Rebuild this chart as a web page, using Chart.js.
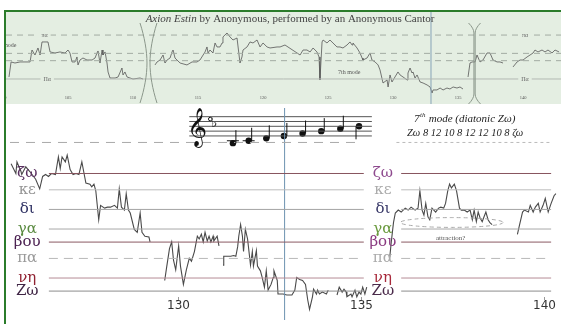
<!DOCTYPE html>
<html>
<head>
<meta charset="utf-8">
<script src="https://cdn.jsdelivr.net/npm/chart.js@4.4.1/dist/chart.umd.min.js"></script>
<style>
    body { margin: 0; background: #fff; width: 561px; height: 324px; overflow: hidden; position: relative; }
    #frame { position: absolute; left: 4px; top: 10px; width: 557px; height: 314px; border-left: 2px solid #2b7c2b; border-top: 2px solid #2b7c2b; }
    #overview { position: absolute; left: 6px; top: 12px; background: #e4eee2; }
    #detail { position: absolute; left: 6px; top: 104px; }
</style>
</head>
<body>
<div id="frame"></div>
<canvas id="overview" width="555" height="92"></canvas>
<canvas id="detail" width="555" height="220"></canvas>
<script>
// ---- overview (whole piece) ----
const ovTicks = [100, 105, 110, 115, 120, 125, 130, 135, 140];
const ovLevels = [0, 30, 42, 72];          // Πα, Δι, Κε, πα' in moria above Πα
const ovSeg1Time = [100.46,100.62,100.92,101.31,101.69,102.08,102.23,102.46,102.69,102.85,103.00,103.46,103.62,104.00,104.38,104.77,105.00,105.15,105.31,105.54,105.69,105.77,105.92,106.15,106.46,106.85,107.08,107.23,107.31,107.46,107.62,107.69,107.85,108.00,108.08,108.23,108.62,108.85,109.15,109.23,109.38,109.54,109.77,110.00,110.54,110.77];
const ovSeg1Pitch = [3.3,27.9,26.2,27.9,27.9,27.9,47.5,39.3,50.8,39.3,60.7,60.7,44.3,42.6,44.3,42.6,47.5,42.6,27.9,27.9,36.1,23.0,31.1,34.4,31.1,31.1,34.4,42.6,45.9,26.2,47.5,39.3,44.3,26.2,11.5,1.6,1.6,3.3,18.0,6.6,11.5,3.3,1.6,0,1.6,0];
const ovSeg2Time = [111.69,111.85,112.08,112.31,112.46,112.62,112.85,113.00,113.08,113.23,113.38,113.62,114.15,114.54,114.92,115.15,115.54,115.69,115.77,115.92,116.15,116.31,116.46,116.69,116.85,116.92,117.23,117.46,117.69,118.00,118.23,118.38,118.46,118.77,119.00,119.23,119.54,119.77,120.00,120.31,120.54,121.08,
    121.31,121.69,122.85,123.08,123.38,123.62,123.85,124.15,124.31,124.38,124.54,124.62,124.92,125.15,125.38,125.69,125.92,126.15,126.46,126.69,126.85,126.92,127.23,127.46,127.62,127.69,128.00,128.23,128.38,128.62,128.85,129.00,129.23,129.54,129.62,129.77,129.92,130.15,130.38,130.54,130.77,131.08,131.15,131.31,131.46,131.54,131.69,131.85,132.08,132.31,132.62,132.85,133.00,133.08,133.38,133.62,133.85,134.15,134.38,134.62,134.92,135.15,135.38];
const ovSeg2Pitch = [23.0,27.9,31.1,39.3,26.2,31.1,34.4,44.3,47.5,34.4,31.1,26.2,23.0,27.9,27.9,31.1,44.3,52.5,42.6,47.5,42.6,59.0,52.5,52.5,59.0,68.9,75.4,68.9,63.9,67.2,26.2,36.1,47.5,52.5,60.7,59.0,63.9,52.5,59.0,52.5,50.8,52.5,
    52.5,55.7,39.3,47.5,47.5,44.3,50.8,44.3,36.1,-1.6,60.7,63.9,59.0,63.9,59.0,52.5,52.5,50.8,55.7,60.7,55.7,59.0,50.8,42.6,34.4,31.1,34.4,42.6,31.1,27.9,23.0,14.8,-6.6,-1.6,-13.1,6.6,-4.9,3.3,11.5,6.6,3.3,-1.6,9.8,18.0,9.8,11.5,1.6,6.6,-4.9,-6.6,-9.8,-13.1,-23.0,-18.0,-18.0,-14.8,-18.0,-14.8,-16.4,-13.1,-14.8,-13.1,-16.4];
const ovSeg3Time = [135.77,135.92,136.08,136.31,136.46,136.69,136.92,137.23,137.46,137.69,138.00,138.23,138.46];
const ovSeg3Pitch = [3.3,26.2,27.9,27.9,39.3,27.9,31.1,42.6,42.6,31.1,27.9,27.9,26.2];
const ovSeg4Time = [139.23,139.54,139.77,140.00,140.31,140.54,140.77,140.92,141.15,141.46,141.69,141.92,142.23,142.46,142.77];
const ovSeg4Pitch = [19.7,27.9,31.1,31.1,36.1,39.3,42.6,47.5,44.3,47.5,44.3,47.5,42.6,47.5,44.3];
const bracketTimes = [111.19, 136.27];

// ---- detail (zoomed section) ----
const pitchNames = ['Ζω', 'νη', 'πα', 'βου', 'γα', 'δι', 'κε', 'ζω'];
const pitchMoria = [0, 8, 20, 30, 38, 50, 62, 72];   // Zω 8 12 10 8 12 12 10 ζω
const detailTicks = [130, 135, 140];
const cursorTime = 132.92;
const upperGuide = 91;
const segATime = [125.46,125.59,125.62,125.73,125.75,125.86,125.97,126.13,126.24,126.32,126.40,126.48,126.56,126.67,126.75,126.80,126.85,126.94,126.99,127.07,127.15,127.23,127.31,127.39,127.45,127.50,127.61,127.66,127.72,127.77,127.85,127.90,128.01,128.09,128.17,128.28,128.36,128.41,128.47,128.55,128.60,128.66,128.71,128.82,128.90,128.98,129.03,129.11,129.22,129.25];
const segAPitch = [77.9,72.0,79.1,73.2,71.4,76.1,73.2,68.5,62.6,70.2,71.4,70.2,72.0,71.4,82.1,75.0,82.1,79.1,83.2,74.4,71.4,72.0,71.4,79.1,72.0,66.1,65.5,63.8,65.5,61.4,43.7,52.5,50.8,51.4,51.4,52.5,50.8,62.6,51.4,49.6,59.6,49.6,47.8,37.8,36.0,47.8,36.0,33.6,33.1,30.1];
const segBTime = [129.65,129.70,129.78,129.84,129.89,129.95,130.03,130.08,130.16,130.24,130.32,130.38,130.46,130.54,130.59,130.65,130.70,130.75,130.81,130.86,130.91,130.97,130.99,131.08,131.13];
const segBPitch = [6.5,14.2,26.0,30.1,18.9,13.0,27.7,15.3,4.1,13.0,20.1,18.3,24.2,33.6,31.9,34.8,30.1,36.0,30.7,33.6,30.1,33.6,30.7,33.6,27.7];
const segCTime = [131.24,131.26,131.37,131.45,131.53,131.59,131.64,131.67,131.72,131.77,131.80,131.85,131.91,131.99,132.04,132.07,132.15,132.18,132.26,132.31,132.37,132.42,132.47,132.55,132.61,132.63,132.72,132.74,132.80,132.88,132.98,133.12,133.20,133.25,133.33,133.41,133.49,133.55,133.60,133.68,133.71,133.79,133.82,133.87,133.95,134.06,134.11];
const segCPitch = [15.9,21.3,21.3,21.3,21.8,21.3,27.2,33.6,40.7,33.6,24.2,37.8,31.9,15.9,24.2,15.3,24.8,15.3,12.4,8.3,2.4,12.4,0.6,4.1,8.3,12.4,6.5,-1.8,-1.8,-1.8,-2.4,-2.4,0.6,8.3,7.1,6.5,4.1,-5.3,-11.2,-3.5,1.2,-1.8,0.6,-1.8,-0.6,-1.8,0.6];
const segDTime = [134.35,134.41,134.49,134.54,134.60,134.62,134.73,134.76,134.84,134.89,134.95,135.00,135.05,135.11,135.16];
const segDPitch = [-2.4,2.4,-0.6,1.2,-0.6,-3.5,-1.8,-3.5,0.6,-3.5,-0.6,-1.8,2.4,-1.8,2.4];
const segETime = [135.78,135.83,135.89,135.94,136.02,136.10,136.21,136.29,136.37,136.48,136.56,136.61,136.67,136.72,136.77,136.83,136.88,136.94,136.99,137.04,137.12,137.18,137.26,137.31,137.37,137.42,137.47,137.55,137.61,137.69,137.74,137.82,137.90,137.98,138.04,138.09,138.15,138.20,138.25,138.31,138.36,138.41,138.47,138.52,138.58];
const segEPitch = [18.9,30.1,41.9,47.8,49.6,48.4,50.8,49.6,51.4,49.6,50.8,61.4,49.6,46.6,53.7,45.5,43.7,50.8,49.6,48.4,50.8,51.4,50.8,53.7,61.4,65.5,63.2,65.5,61.4,50.8,49.6,49.6,48.4,49.6,43.7,49.6,42.5,48.4,44.9,42.5,45.5,48.4,43.7,41.9,40.7];
const segFTime = [139.27,139.33,139.41,139.46,139.57,139.62,139.70,139.76,139.84,139.89,139.97,140.03,140.11,140.19,140.27,140.32];
const segFPitch = [34.8,40.7,48.4,49.6,48.4,52.5,48.4,51.4,53.7,48.4,52.5,56.7,48.4,53.7,58.4,59.6];

// staff with the 7th mode scale (steps counted from the bottom line)
const staffSteps = [0, 2, 4, 6, 8];
const noteTimes = [131.51, 131.94, 132.42, 132.90, 133.41, 133.92, 134.44, 134.95];
const noteSteps = [-3, -2, -1, 0, 1, 2, 3, 4];

// styles
const leftColors = ['#3e2444', '#902232', '#9a9a9a', '#4c2252', '#5a8a40', '#2e3062', '#959595', '#5a3060'];
const midColors = ['#4a2a4a', '#a82a3c', '#ababab', '#8a3a80', '#6a9a3e', '#383868', '#ababab', '#8e4a8e'];
const lineColors = ['#8c8c8c', '#b58c96', '#b8b8b8', '#8a5a62', '#a8a8a8', '#a4a4a4', '#bcbcbc', '#87545e'];

const pts = (xs, ys) => xs.map((t, i) => ({ x: t, y: ys[i] }));
const flat = (xs, v) => xs.map(t => ({ x: t, y: v }));

function contour(data, axis) {
    return { data: data, borderColor: '#4a4a4a', borderWidth: 1.1, pointRadius: 0, yAxisID: axis || 'y' };
}

// ---------- overview chart ----------
const OV_MIN = 100.23, OV_MAX = 142.92;

const overviewDecor = {
    id: 'overviewDecor',
    afterDatasetsDraw(chart) {
        const { ctx, scales: { x, y } } = chart;
        ctx.save();
        // title
        ctx.fillStyle = '#444';
        ctx.textBaseline = 'alphabetic';
        const a = 'Axion Estin';
        const b = ' by Anonymous, performed by an Anonymous Cantor';
        ctx.font = '11px "Liberation Serif"';
        const wb = ctx.measureText(b).width;
        ctx.font = 'italic 11px "Liberation Serif"';
        const wa = ctx.measureText(a).width;
        let tx = 284 - (wa + wb) / 2;
        ctx.fillText(a, tx, 10);
        ctx.font = '11px "Liberation Serif"';
        ctx.fillText(b, tx + wa, 10);

        // level labels
        ctx.font = '6px "Liberation Serif"';
        ctx.textAlign = 'center';
        ctx.textBaseline = 'middle';
        [[103.2, 'πα', 72], [103.4, 'Πα', 0], [140.15, 'πα', 72], [140.15, 'Πα', 0]].forEach(([t, s, v]) => {
            const px = x.getPixelForValue(t), py = y.getPixelForValue(v);
            const w = ctx.measureText(s).width + 6;
            ctx.fillStyle = '#e4eee2';
            ctx.fillRect(px - w / 2, py - 3, w, 6);
            ctx.fillStyle = '#666';
            ctx.fillText(s, px, py);
        });
        // mode labels
        ctx.textAlign = 'left';
        ctx.font = '6px "Liberation Serif"';
        ctx.fillStyle = '#555';
        ctx.fillText('7th mode', x.getPixelForValue(100.23) - 12, y.getPixelForValue(55.7));
        ctx.fillText('7th mode', x.getPixelForValue(125.77), y.getPixelForValue(11.5));

        // ticks
        ctx.textAlign = 'center';
        ctx.font = '4.5px "Liberation Serif"';
        ctx.fillStyle = '#555';
        ovTicks.forEach(v => {
            ctx.fillText(String(v), x.getPixelForValue(v), 86);
        });

        // section brackets
        ctx.strokeStyle = '#8b978b';
        ctx.lineWidth = 1;
        const shapes = [[8.5, 1.5, 40, 11, 91], [6, 0.6, 10, 11, 92]];
        bracketTimes.forEach((t, i) => {
            const cx = x.getPixelForValue(t);
            const [sp, pn, r, y0, y1] = shapes[i];
            [-1, 1].forEach(side => {
                ctx.beginPath();
                ctx.moveTo(cx + side * sp, y0);
                ctx.bezierCurveTo(cx + side * (pn + (sp - pn) * 0.35), y0 + r * 0.35, cx + side * pn, y0 + r * 0.7, cx + side * pn, y0 + r);
                ctx.lineTo(cx + side * pn, y1 - r);
                ctx.bezierCurveTo(cx + side * pn, y1 - r * 0.7, cx + side * (pn + (sp - pn) * 0.35), y1 - r * 0.35, cx + side * sp, y1);
                ctx.stroke();
            });
        });
        ctx.restore();
    }
};

new Chart(document.getElementById('overview'), {
    type: 'line',
    data: {
        datasets: [
            { data: flat([OV_MIN, OV_MAX], ovLevels[0]), borderColor: '#b3b9b3', borderWidth: 1, pointRadius: 0 },
            { data: flat([OV_MIN, OV_MAX], ovLevels[1]), borderColor: '#a3aba3', borderWidth: 1, borderDash: [6, 5], pointRadius: 0 },
            { data: flat([OV_MIN, OV_MAX], ovLevels[2]), borderColor: '#a3aba3', borderWidth: 1, borderDash: [6, 5], pointRadius: 0 },
            { data: flat([OV_MIN, OV_MAX], ovLevels[3]), borderColor: '#a3aba3', borderWidth: 1, borderDash: [6, 5], pointRadius: 0 },
            { data: [{ x: cursorTime, y: -50 }, { x: cursorTime, y: 120 }], borderColor: '#86a3b8', borderWidth: 1, pointRadius: 0 },
            Object.assign(contour(pts(ovSeg1Time, ovSeg1Pitch)), { borderWidth: 0.8, borderColor: '#555' }),
            Object.assign(contour(pts(ovSeg2Time, ovSeg2Pitch)), { borderWidth: 0.8, borderColor: '#555' }),
            Object.assign(contour(pts(ovSeg3Time, ovSeg3Pitch)), { borderWidth: 0.8, borderColor: '#555' }),
            Object.assign(contour(pts(ovSeg4Time, ovSeg4Pitch)), { borderWidth: 0.8, borderColor: '#555' })
        ]
    },
    options: {
        responsive: false,
        animation: false,
        events: [],
        layout: { padding: 0 },
        plugins: { legend: { display: false }, tooltip: { enabled: false } },
        scales: {
            x: { type: 'linear', display: false, min: OV_MIN, max: OV_MAX },
            y: { type: 'linear', display: false, min: -41, max: 109.8 }
        }
    },
    plugins: [overviewDecor]
});

// ---------- detail chart ----------
const DX_MIN = 125.43, DX_MAX = 140.35;
const leftSpan = [126.49, 135.08];
const rightSpan = [136.10, 140.19];
const staffSpan = [130.32, 135.30];

const detailDecor = {
    id: 'detailDecor',
    afterDatasetsDraw(chart) {
        const { ctx, scales } = chart;
        const x = scales.x, y = scales.y, ys = scales.yStaff;
        ctx.save();

        // pitch names, left and middle columns
        ctx.textAlign = 'center';
        ctx.textBaseline = 'middle';
        ctx.font = '15px "DejaVu Serif"';
        pitchNames.forEach((name, i) => {
            const py = y.getPixelForValue(pitchMoria[i]);
            ctx.fillStyle = leftColors[i];
            ctx.fillText(name, x.getPixelForValue(125.90), py);
            ctx.fillStyle = midColors[i];
            ctx.fillText(name, x.getPixelForValue(135.60), py);
        });

        // x ticks
        ctx.font = '12px "DejaVu Sans"';
        ctx.fillStyle = '#333';
        ctx.strokeStyle = '#999';
        ctx.lineWidth = 1;
        detailTicks.forEach(v => {
            const px = Math.round(x.getPixelForValue(v)) + 0.5;
            ctx.beginPath();
            ctx.moveTo(px, 193);
            ctx.lineTo(px, 196);
            ctx.stroke();
            ctx.fillText(String(v), px, 202);
        });

        // "attraction?" ellipse
        const ex = x.getPixelForValue(137.48), ey = y.getPixelForValue(42);
        ctx.setLineDash([4, 3]);
        ctx.strokeStyle = '#aaa';
        ctx.beginPath();
        ctx.ellipse(ex, ey, x.getPixelForValue(138.88) - ex, ey - y.getPixelForValue(45), 0, 0, Math.PI * 2);
        ctx.stroke();
        ctx.setLineDash([]);
        ctx.font = '7px "Liberation Serif"';
        ctx.fillStyle = '#555';
        ctx.fillText('attraction?', x.getPixelForValue(137.45), y.getPixelForValue(32.5));

        // note stems and ledger lines
        const meta = chart.getDatasetMeta(chart.data.datasets.length - 1);
        ctx.strokeStyle = '#111';
        ctx.lineWidth = 1;
        const ledgerY = ys.getPixelForValue(-2);
        meta.data.forEach((pt, i) => {
            ctx.beginPath();
            if (noteSteps[i] < 4) {
                ctx.moveTo(pt.x + 3, pt.y);
                ctx.lineTo(pt.x + 3, pt.y - 13);
            } else {
                ctx.moveTo(pt.x - 3, pt.y);
                ctx.lineTo(pt.x - 3, pt.y + 13);
            }
            if (noteSteps[i] <= -2) {
                ctx.moveTo(pt.x - 6, ledgerY);
                ctx.lineTo(pt.x + 6, ledgerY);
            }
            ctx.stroke();
        });

        // clef and accidental
        const sx = x.getPixelForValue(staffSpan[0]);
        ctx.fillStyle = '#111';
        ctx.font = '34px "DejaVu Sans"';
        ctx.fillText('\u{1D11E}', sx + 8, ys.getPixelForValue(3));
        ctx.font = '13px "DejaVu Sans"';
        ctx.fillText('\u266D', sx + 25, ys.getPixelForValue(5));
        ctx.beginPath();
        ctx.arc(sx + 21, ys.getPixelForValue(7), 1.8, 0, Math.PI * 2);
        ctx.stroke();

        // mode caption
        ctx.textAlign = 'left';
        ctx.textBaseline = 'alphabetic';
        ctx.fillStyle = '#222';
        ctx.font = 'italic 11px "Liberation Serif"';
        ctx.fillText('7', 408, 18);
        ctx.font = 'italic 7px "Liberation Serif"';
        ctx.fillText('th', 414, 13);
        ctx.font = 'italic 11px "Liberation Serif"';
        ctx.fillText(' mode (diatonic Ζω)', 420, 18);
        ctx.font = 'italic 10.5px "Liberation Serif"';
        ctx.fillText('Ζω 8 12 10 8 12 12 10 8 ζω', 401, 32);
        ctx.restore();
    }
};

const detailSets = [];
// upper guide line (left long dashes, right fine dashes)
detailSets.push({ data: flat([DX_MIN, 135.03], upperGuide), borderColor: '#aaa', borderWidth: 1, borderDash: [9, 7], pointRadius: 0 });
detailSets.push({ data: flat([135.97, 140.19], upperGuide), borderColor: '#bbb', borderWidth: 1, borderDash: [3, 3], pointRadius: 0 });
// degree lines
pitchMoria.forEach((m, i) => {
    detailSets.push({
        data: [{ x: leftSpan[0], y: m }, { x: leftSpan[1], y: m }, { x: 135.6, y: null }, { x: rightSpan[0], y: m }, { x: rightSpan[1], y: m }],
        borderColor: lineColors[i],
        borderWidth: 1,
        borderDash: pitchNames[i] === 'πα' ? [9, 6] : [],
        pointRadius: 0,
        spanGaps: false
    });
});
// cursor
detailSets.push({ data: [{ x: cursorTime, y: -30 }, { x: cursorTime, y: 120 }], borderColor: '#6d92b0', borderWidth: 1, pointRadius: 0 });
// contour
[[segATime, segAPitch], [segBTime, segBPitch], [segCTime, segCPitch], [segDTime, segDPitch], [segETime, segEPitch], [segFTime, segFPitch]]
    .forEach(([t, p]) => detailSets.push(contour(pts(t, p))));
// staff lines
staffSteps.forEach(s => {
    detailSets.push({ data: flat(staffSpan, s), yAxisID: 'yStaff', borderColor: '#555', borderWidth: 1, pointRadius: 0 });
});
// note heads (keep last)
detailSets.push({
    data: pts(noteTimes, noteSteps), yAxisID: 'yStaff', showLine: false,
    pointRadius: 3.2, pointBackgroundColor: '#111', pointBorderWidth: 0, pointStyle: 'circle'
});

new Chart(document.getElementById('detail'), {
    type: 'line',
    data: { datasets: detailSets },
    options: {
        responsive: false,
        animation: false,
        events: [],
        layout: { padding: 0 },
        plugins: { legend: { display: false }, tooltip: { enabled: false } },
        scales: {
            x: { type: 'linear', display: false, min: DX_MIN, max: DX_MAX },
            y: { type: 'linear', display: false, min: -17.7, max: 112.1 },
            yStaff: { type: 'linear', display: false, min: -76.4, max: 11.6 }
        }
    },
    plugins: [detailDecor]
});
</script>
</body>
</html>
